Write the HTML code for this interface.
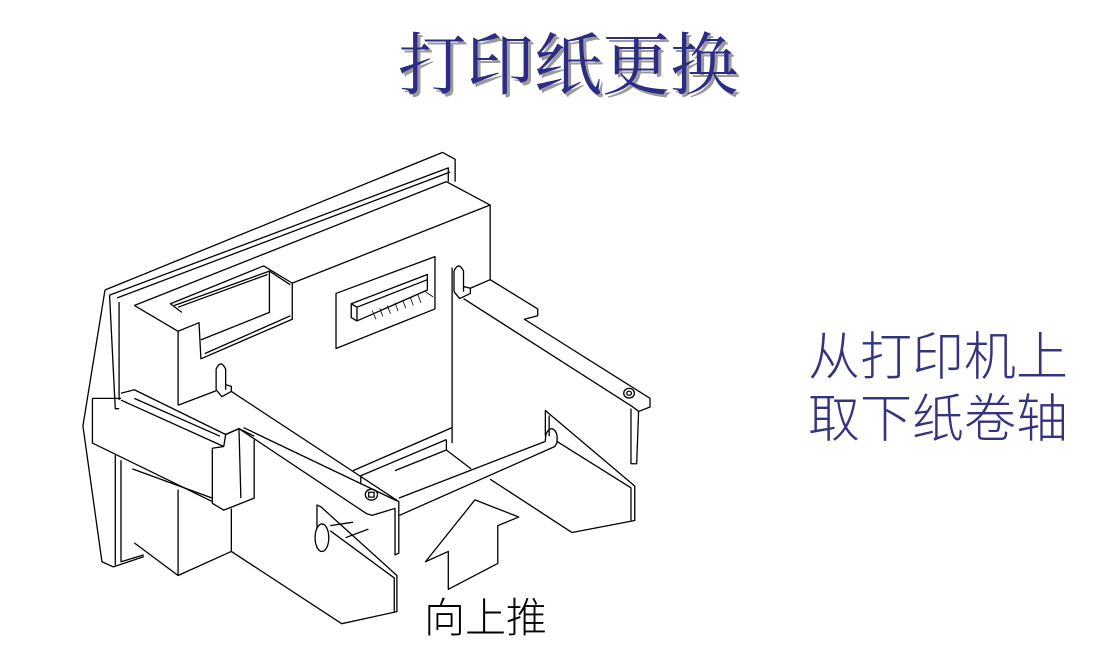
<!DOCTYPE html>
<html><head><meta charset="utf-8"><style>
html,body{margin:0;padding:0;background:#fff;width:1120px;height:653px;overflow:hidden;position:relative}
.t{position:absolute;white-space:nowrap;line-height:1}
#title{left:398px;top:32px;font-family:"Liberation Serif","Noto Serif CJK SC",serif;font-size:68px;color:#2c2c86;text-shadow:3px 3px 0 #9a9a9a;letter-spacing:0px}
.r{left:808px;font-family:"Liberation Sans","Noto Sans CJK SC",sans-serif;font-size:52px;color:#34347e;font-weight:300}
#push{left:424px;top:598px;font-family:"Liberation Sans","Noto Sans CJK SC",sans-serif;font-size:41px;color:#000;font-weight:300}
svg{position:absolute;left:0;top:0}
svg *{vector-effect:non-scaling-stroke}
</style></head><body>
<div class="t" id="title">打印纸更换</div>
<div class="t r" style="top:332px">从打印机上</div>
<div class="t r" style="top:394px">取下纸卷轴</div>
<div class="t" id="push">向上推</div>
<svg width="1120" height="653">
<g transform="translate(71.5,143.8) scale(0.3806,0.344)" fill="none" stroke="#000" stroke-width="1.3" stroke-linejoin="round">
<polyline points="88,425 975,25 1008,45 1008,110"/>
<polyline points="88,425 30,820 80,1215 110,1230 190,1200"/>
<polyline points="100,440 990,70 990,110"/>
<polyline points="120,448 995,82"/>
<polyline points="100,440 115,770 125,770"/>
<polyline points="125,460 125,745"/>
<polyline points="165,470 985,110"/>
<polyline points="115,905 115,1225"/>
<polyline points="130,920 130,1215 190,1195"/>
<polyline points="985,110 1100,178 1100,395"/>
<polyline points="580,405 1100,178"/>
<polyline points="165,470 280,545 280,760"/>
<polyline points="280,545 335,520 340,625 580,510 580,405 505,355 260,465 290,490"/>
<polyline points="270,470 520,370 520,490 340,570"/>
<polyline points="280,475 515,380"/>
<polyline points="520,370 575,410"/>
<polyline points="350,610 575,500"/>
<polygon points="695,435 955,328 955,480 695,595"/>
<polygon points="735,465 935,380 935,425 750,515 735,505"/>
<polyline points="735,465 750,475 935,395"/>
<polyline points="750,475 750,515"/>
<g stroke-width="0.8">
<line x1="790" y1="485" x2="800" y2="510"/><line x1="810" y1="478" x2="818" y2="502"/><line x1="830" y1="470" x2="838" y2="494"/><line x1="850" y1="462" x2="858" y2="486"/><line x1="870" y1="454" x2="878" y2="478"/><line x1="890" y1="446" x2="898" y2="470"/><line x1="910" y1="438" x2="918" y2="462"/><line x1="930" y1="430" x2="950" y2="445"/></g>
<path d="M380,715 L380,655 Q392,625 405,655 L405,715"/>
<polyline points="380,715 395,735 420,720 420,705 405,700"/>
<path d="M1005,430 L1005,370 Q1017,340 1030,370 L1030,430"/>
<polyline points="1005,430 1020,450 1048,435 1048,420 1030,415"/>
<polyline points="280,760 380,718"/>
<polyline points="1000,360 1000,870"/>
<polyline points="1048,420 1100,395 1225,480 1225,500 1190,510 1520,740 1520,765 1490,778 1485,930 1470,930 1470,770"/>
<polyline points="1030,450 1475,765 1490,778"/>
<circle cx="1465" cy="725" r="14"/><circle cx="1465" cy="725" r="6"/>
<polyline points="1000,825 740,950"/>
<polyline points="985,860 760,965 760,990"/>
<polyline points="985,860 985,890 850,950"/>
<polyline points="985,890 1050,945"/>
<polyline points="420,720 860,1040 860,1190 850,1195 850,1060 790,1080 775,1075 440,828 405,845"/>
<polyline points="452,825 855,1038"/>
<polyline points="440,828 445,1030"/>
<circle cx="788" cy="1020" r="16"/><rect x="781" y="1013" width="14" height="14"/>
<polyline points="860,1030 1245,865"/>
<polyline points="862,1080 1270,880"/>
<path d="M1245,865 Q1245,830 1262,828 Q1280,835 1275,870 L1270,880"/>
<polyline points="1245,850 1245,775 1250,780 1480,995 1480,1095 1315,1130 1100,975"/>
<polyline points="1255,790 1255,850"/>
<polyline points="1275,865 1470,1000 1470,1095"/>
<polyline points="645,1175 645,1050 655,1055 855,1255 855,1360 710,1395 420,1185"/>
<polyline points="680,1125 848,1262 848,1360"/>
<polyline points="680,1110 740,1100"/>
<polyline points="720,1145 780,1120"/>
<ellipse cx="658" cy="1145" rx="18" ry="40" fill="#fff"/>
<polyline points="55,740 55,870 370,1040 370,1045 400,1065 480,1030 480,860"/>
<polyline points="55,740 130,740"/>
<polyline points="130,725 165,715 405,845 400,880 370,885 370,1040"/>
<polyline points="130,745 400,880"/>
<polyline points="165,740 390,850"/>
<polyline points="405,845 440,828 480,850"/>
<polyline points="160,945 370,1030"/>
<polyline points="420,1060 420,1185 280,1255 165,1160"/>
<polyline points="280,1005 280,1255"/>
<polygon points="1060,1035 1175,1085 1120,1110 1120,1220 990,1295 990,1185 930,1215"/>
</g>
</svg>
</body></html>
